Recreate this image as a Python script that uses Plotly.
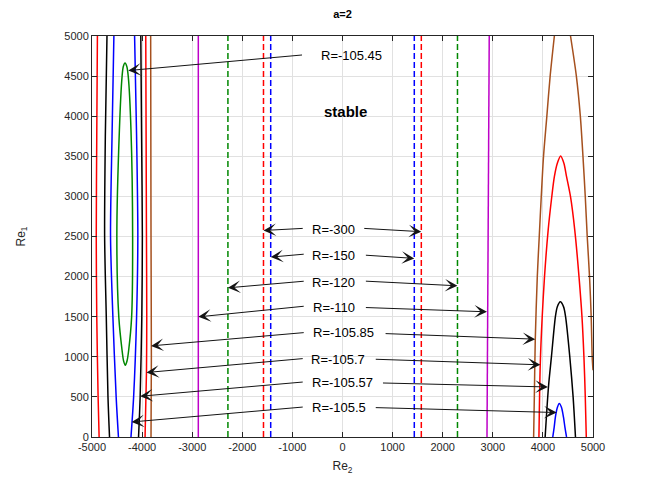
import plotly.graph_objects as go

# contour R=-105.45 (closed loop on the left)
green_x = [-4341, -4305, -4276, -4222, -4189, -4209, -4268, -4300, -4335, -4370, -4400, -4465, -4504, -4453, -4400, -4375, -4341]
green_y = [4662, 4620, 4494, 3829, 2497, 1498, 1082, 950, 895, 950, 1082, 1498, 2500, 3829, 4494, 4620, 4662]

# R=-105.5 (blue)
blue_l1_x = [-4563, -4600, -4630, -4583, -4518, -4472]
blue_l1_y = [5000, 3750, 2500, 1500, 500, 0]
blue_l2_x = [-4150, -4110, -4085, -4110, -4169, -4222]
blue_l2_y = [5000, 3750, 2500, 1500, 500, 0]
blue_r_x = [4197, 4225, 4250, 4290, 4327, 4370, 4410, 4440, 4472]
blue_r_y = [0, 120, 250, 370, 417, 370, 250, 120, 0]

# R=-105.57 (black)
black_l1_x = [-4701, -4734, -4748, -4715, -4681, -4650]
black_l1_y = [5000, 3750, 2500, 1500, 500, 0]
black_l2_x = [-4026, -4010, -3995, -4006, -4039, -4071]
black_l2_y = [5000, 3750, 2500, 1500, 500, 0]
black_r_x = [4045, 4111, 4170, 4249, 4288, 4347, 4413, 4453, 4537, 4603, 4650]
black_r_y = [0, 624, 999, 1498, 1623, 1685, 1623, 1498, 999, 500, 0]

# R=-105.7 (red)
red_l1_x = [-4892, -4905, -4915, -4905, -4878, -4858]
red_l1_y = [5000, 3750, 2500, 1500, 500, 0]
red_l2_x = [-3927, -3920, -3913, -3907, -3913, -3941]
red_l2_y = [5000, 3750, 2500, 1500, 800, 0]
red_r_x = [3921, 3947, 3986, 4032, 4105, 4177, 4229, 4288, 4354, 4419, 4472, 4551, 4636, 4721, 4780, 4819, 4846, 4866]
red_r_y = [0, 899, 1498, 1997, 2580, 2996, 3246, 3413, 3504, 3413, 3246, 2996, 2580, 1997, 1498, 999, 500, 0]

# R=-105.85 (brown)
brown_l_x = [-3829, -3822, -3815, -3822]
brown_l_y = [5000, 2500, 1000, 0]
brown_r1_x = [3815, 3829, 3848, 3888, 3927, 3967, 4012, 4078, 4144, 4229]
brown_r1_y = [0, 500, 1220, 1997, 2497, 2996, 3496, 3995, 4494, 5000]
brown_r2_x = [4551, 4669, 4748, 4800, 4846, 4885, 4931, 4964, 4984, 5000]
brown_r2_y = [5000, 4494, 3995, 3496, 2996, 2497, 1997, 1498, 999, 833]

# near-vertical contours
line_y = [0, 5000]
mag_l_x = [-2878, -2878]
mag_r_x = [2884, 2929]
green_d_x = [-2287, 2295]
blue_d_x = [-1433, 1433]
red_d_x = [-1577, 1573]

# labels: text, centre x, centre y
labels = ["R=-105.45", "R=-300", "R=-150", "R=-120", "R=-110",
          "R=-105.85", "R=-105.7", "R=-105.57", "R=-105.5"]
label_x = [177, -187, -173, -173, -173, 10, -82, -4, -69]
label_y = [4752, 2584, 2268, 1927, 1615, 1298, 970, 674, 367]

# arrows: tail (x, y) -> tip (x, y)
arrow_tail_x = [-778, -764, 404, -744, 437, -744, 437, -744, 437,
                -744, 830, -764, 634, -764, 778, -764, 634]
arrow_tail_y = [4765, 2602, 2602, 2281, 2268, 1944, 1944, 1632, 1615,
                1303, 1290, 979, 970, 687, 674, 375, 367]
arrow_tip_x = [-4276, -1577, 1573, -1433, 1433, -2287, 2295, -2878, 2884,
               -3822, 3848, -3913, 3950, -4039, 4100, -4209, 4276]
arrow_tip_y = [4569, 2575, 2560, 2243, 2227, 1860, 1885, 1498, 1561,
               1136, 1220, 804, 900, 508, 624, 187, 305]

xticks = [-5000, -4000, -3000, -2000, -1000, 0, 1000, 2000, 3000, 4000, 5000]
yticks = [0, 500, 1000, 1500, 2000, 2500, 3000, 3500, 4000, 4500, 5000]

RED = "rgb(255,0,0)"
BLUE = "rgb(0,0,255)"
BLACK = "rgb(0,0,0)"
GREEN = "rgb(0,135,0)"
BROWN = "rgb(165,80,30)"
MAGENTA = "rgb(190,0,200)"

fig = go.Figure()


def add_curve(x, y, color, dash="solid"):
    fig.add_trace(go.Scatter(x=x, y=y, mode="lines",
                             line=dict(color=color, width=1.5, dash=dash, shape="spline", smoothing=0.8),
                             hoverinfo="skip", showlegend=False))


add_curve(green_x, green_y, GREEN)
for cx, cy in [(blue_l1_x, blue_l1_y), (blue_l2_x, blue_l2_y), (blue_r_x, blue_r_y)]:
    add_curve(cx, cy, BLUE)
for cx, cy in [(black_l1_x, black_l1_y), (black_l2_x, black_l2_y), (black_r_x, black_r_y)]:
    add_curve(cx, cy, BLACK)
for cx, cy in [(red_l1_x, red_l1_y), (red_l2_x, red_l2_y), (red_r_x, red_r_y)]:
    add_curve(cx, cy, RED)
for cx, cy in [(brown_l_x, brown_l_y), (brown_r1_x, brown_r1_y), (brown_r2_x, brown_r2_y)]:
    add_curve(cx, cy, BROWN)

add_curve(mag_l_x, line_y, MAGENTA)
add_curve(mag_r_x, line_y, MAGENTA)
for xv in green_d_x:
    add_curve([xv, xv], line_y, GREEN, "6px,3px")
for xv in blue_d_x:
    add_curve([xv, xv], line_y, BLUE, "6px,3px")
for xv in red_d_x:
    add_curve([xv, xv], line_y, RED, "6px,3px")

annotations = []
for t, lx, ly in zip(labels, label_x, label_y):
    annotations.append(dict(x=lx, y=ly, xref="x", yref="y", text=t, showarrow=False,
                            font=dict(size=13, color="black")))
for tx, ty, hx, hy in zip(arrow_tail_x, arrow_tail_y, arrow_tip_x, arrow_tip_y):
    annotations.append(dict(x=hx, y=hy, ax=tx, ay=ty, xref="x", yref="y", axref="x", ayref="y",
                            text="", showarrow=True, arrowhead=3, arrowsize=2.1, arrowwidth=1.0,
                            arrowcolor="rgb(20,20,20)"))
annotations.append(dict(x=69, y=4057, xref="x", yref="y", text="<b>stable</b>", showarrow=False,
                        font=dict(size=15, color="black")))

axis_common = dict(showline=True, linecolor="rgb(38,38,38)", linewidth=1, mirror="ticks",
                   ticks="inside", ticklen=5, tickcolor="rgb(38,38,38)",
                   showgrid=True, gridcolor="rgb(225,225,225)", gridwidth=1, zeroline=False,
                   tickfont=dict(size=11, color="rgb(38,38,38)"))

fig.update_layout(
    width=654, height=491,
    margin=dict(l=77, r=69, t=28, b=62),
    paper_bgcolor="white", plot_bgcolor="white",
    font=dict(family="Liberation Sans, Arial, sans-serif"),
    title=dict(text="<b>a=2</b>", x=0.5, xref="paper", y=1 - 6 / 491, yref="container",
               xanchor="center", yanchor="middle", font=dict(size=11, color="black")),
    xaxis=dict(range=[-5000, 5000], tickvals=xticks, ticktext=[str(v) for v in xticks],
               title=dict(text="Re<sub>2</sub>", font=dict(size=12, color="rgb(38,38,38)"), standoff=9),
               **axis_common),
    yaxis=dict(range=[0, 5000], tickvals=yticks, ticktext=[str(v) for v in yticks],
               title=dict(text="Re<sub>1</sub>", font=dict(size=12, color="rgb(38,38,38)"), standoff=36),
               **axis_common),
    annotations=annotations,
)

fig.write_html("out.html")
